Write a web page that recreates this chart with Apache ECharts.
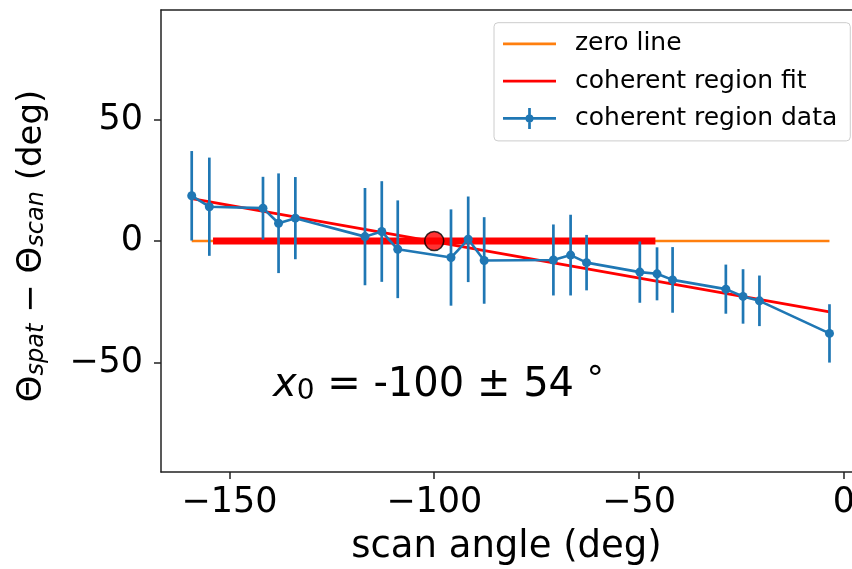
<!DOCTYPE html>
<html>
<head>
<meta charset="utf-8">
<script src="https://cdn.jsdelivr.net/npm/echarts@6/dist/echarts.min.js"></script>
<style>
  html, body { margin: 0; padding: 0; background: #fff; overflow: hidden; }
  #chart { width: 852px; height: 569px; }
</style>
</head>
<body>
<div id="chart"></div>
<script>
// scan angle (deg) of each measurement
const scanAngle = [-159.2, -154.9, -141.8, -138.0, -133.9, -116.9, -112.8, -108.9, -95.9, -91.7, -87.8,
  -70.9, -66.7, -62.8, -49.8, -45.6, -41.8, -28.8, -24.6, -20.6, -3.5];
// Theta_spat - Theta_scan (deg)
const offset = [18.6, 14.1, 13.5, 7.3, 9.4, 1.8, 3.9, -3.4, -6.8, 0.7, -8.0,
  -7.8, -5.8, -8.9, -12.8, -13.5, -16.0, -19.8, -22.8, -24.6, -38.0];
const offsetErr = [18.4, 20.2, 12.9, 20.5, 16.9, 20.0, 20.7, 20.1, 19.8, 17.6, 17.8,
  14.6, 16.6, 11.4, 12.6, 10.9, 13.5, 10.1, 11.2, 10.4, 12.0];
// linear fit end points
const fitX = [-159.2, -3.5];
const fitY = [17.4, -29.1];
// zero crossing and its uncertainty
const x0 = -100;
const x0Err = 54;
const xTicks = [-150, -100, -50, 0];
const yTicks = [-50, 0, 50];

const font = "DejaVu Sans";
const minus = (v) => (v < 0 ? "\u2212" + Math.abs(v) : String(v));
const spine = { color: "#222", width: 1.5 };

const chart = echarts.init(document.getElementById("chart"), null, { renderer: "canvas" });

const errData = scanAngle.map((x, i) => [x, offset[i], offsetErr[i]]);

// the right spine of the original figure falls just outside the picture,
// so the x range runs to the canvas edge and only left/top/bottom spines are drawn
const option = {
  animation: false,
  textStyle: { fontFamily: font },
  grid: { left: 161, top: 10, bottom: 97, right: 0, outerBoundsMode: "none" },
  legend: {
    orient: "vertical",
    left: 494, top: 22.7,
    padding: [8.6, 13, 10, 9],
    itemWidth: 53, itemHeight: 21, itemGap: 12.3,
    backgroundColor: "rgba(255,255,255,0.8)",
    borderColor: "#cccccc", borderWidth: 1, borderRadius: 4,
    textStyle: { fontFamily: font, fontSize: 25, lineHeight: 24, color: "#000", padding: [0, 0, 0, 14] },
    data: [
      { name: "zero line", icon: "path://M0,0h53v2.7h-53z" },
      { name: "coherent region fit", icon: "path://M0,0h53v2.8h-53z" },
      { name: "coherent region data",
        icon: "path://M0,9.15h53v2.7h-53z M25.15,0h2.7v21h-2.7z M22.5,10.5a4,4 0 1,1 8,0a4,4 0 1,1 -8,0z" },
    ],
  },
  xAxis: [
    {
      type: "value", min: -166.7, max: 2.0, position: "bottom",
      name: "scan angle (deg)", nameLocation: "middle", nameGap: 57,
      nameTextStyle: { fontFamily: font, fontSize: 37, color: "#000" },
      axisLine: { show: true, onZero: false, lineStyle: spine },
      splitLine: { show: false },
      axisTick: { show: true, customValues: xTicks, length: 7, lineStyle: spine },
      axisLabel: { customValues: xTicks, formatter: minus, fontFamily: font, fontSize: 35, color: "#000", margin: 13 },
    },
    {
      type: "value", min: -166.7, max: 2.0, position: "top",
      axisLine: { show: true, onZero: false, lineStyle: spine },
      axisTick: { show: false }, axisLabel: { show: false }, splitLine: { show: false },
    },
  ],
  yAxis: {
    type: "value", min: -95, max: 95,
    name: "{t|\u0398}{s|spat}{t| \u2212 \u0398}{s|scan}{e| (deg)}",
    nameLocation: "middle", nameGap: 112,
    nameTextStyle: {
      fontFamily: font, fontSize: 34, color: "#000",
      rich: {
        t: { fontFamily: font, fontSize: 34, lineHeight: 34, color: "#000" },
        e: { fontFamily: font, fontSize: 34, lineHeight: 34, color: "#000", padding: [0, 10, 0, 0] },
        s: { fontFamily: font, fontSize: 24, lineHeight: 17, fontStyle: "italic", color: "#000", verticalAlign: "bottom" },
      },
    },
    axisLine: { show: true, onZero: false, lineStyle: spine },
    splitLine: { show: false },
    axisTick: { show: true, customValues: yTicks, length: 7, lineStyle: spine },
    axisLabel: { customValues: yTicks, formatter: minus, fontFamily: font, fontSize: 35, color: "#000", margin: 18 },
  },
  graphic: [
    {
      type: "text", left: 273, top: 364.5, z: 100,
      style: {
        text: "{i|x}{s|0}{n| = " + x0 + " \u00b1 " + x0Err + " }{d|\u00b0}",
        rich: {
          i: { fontFamily: font, fontSize: 40, lineHeight: 40, fontStyle: "italic", fill: "#000", verticalAlign: "bottom" },
          s: { fontFamily: font, fontSize: 28, lineHeight: 22, fill: "#000", verticalAlign: "bottom" },
          n: { fontFamily: font, fontSize: 40, lineHeight: 40, fill: "#000", verticalAlign: "bottom" },
          d: { fontFamily: font, fontSize: 34, lineHeight: 40, fill: "#000", verticalAlign: "bottom", padding: [0, 0, 7, 0] },
        },
      },
    },
  ],
  series: [
    {
      name: "zero line", type: "line", z: 1, symbol: "none", silent: true,
      color: "#ff7f0e", lineStyle: { color: "#ff7f0e", width: 2.7 },
      data: [[scanAngle[0], 0], [scanAngle[scanAngle.length - 1], 0]],
    },
    {
      name: "coherent region fit", type: "line", z: 2, symbol: "none", silent: true,
      color: "#ff0000", lineStyle: { color: "#ff0000", width: 2.8 },
      data: fitX.map((x, i) => [x, fitY[i]]),
    },
    {
      name: "coherent region", type: "line", z: 3, symbol: "none", silent: true,
      lineStyle: { color: "#ff0000", width: 7 },
      data: [[x0 - x0Err, 0], [x0 + x0Err, 0]],
    },
    {
      name: "coherent region data", type: "custom", z: 4, silent: true,
      color: "#1f77b4",
      renderItem: (params, api) => {
        const x = api.value(0), y = api.value(1), e = api.value(2);
        const lo = api.coord([x, y - e]);
        const hi = api.coord([x, y + e]);
        return {
          type: "line",
          shape: { x1: lo[0], y1: lo[1], x2: hi[0], y2: hi[1] },
          style: { stroke: "#1f77b4", lineWidth: 2.7 },
        };
      },
      data: errData,
    },
    {
      name: "coherent region data", type: "line", z: 5, silent: true,
      color: "#1f77b4",
      symbol: "circle", symbolSize: 9,
      itemStyle: { color: "#1f77b4" },
      lineStyle: { color: "#1f77b4", width: 2.6 },
      data: scanAngle.map((x, i) => [x, offset[i]]),
    },
    {
      name: "x0", type: "scatter", z: 6, silent: true,
      symbol: "circle", symbolSize: 19,
      itemStyle: { color: "#ff0000", borderColor: "#000", borderWidth: 1.6 },
      data: [[x0, 0]],
    },
  ],
};

chart.setOption(option);
</script>
</body>
</html>
